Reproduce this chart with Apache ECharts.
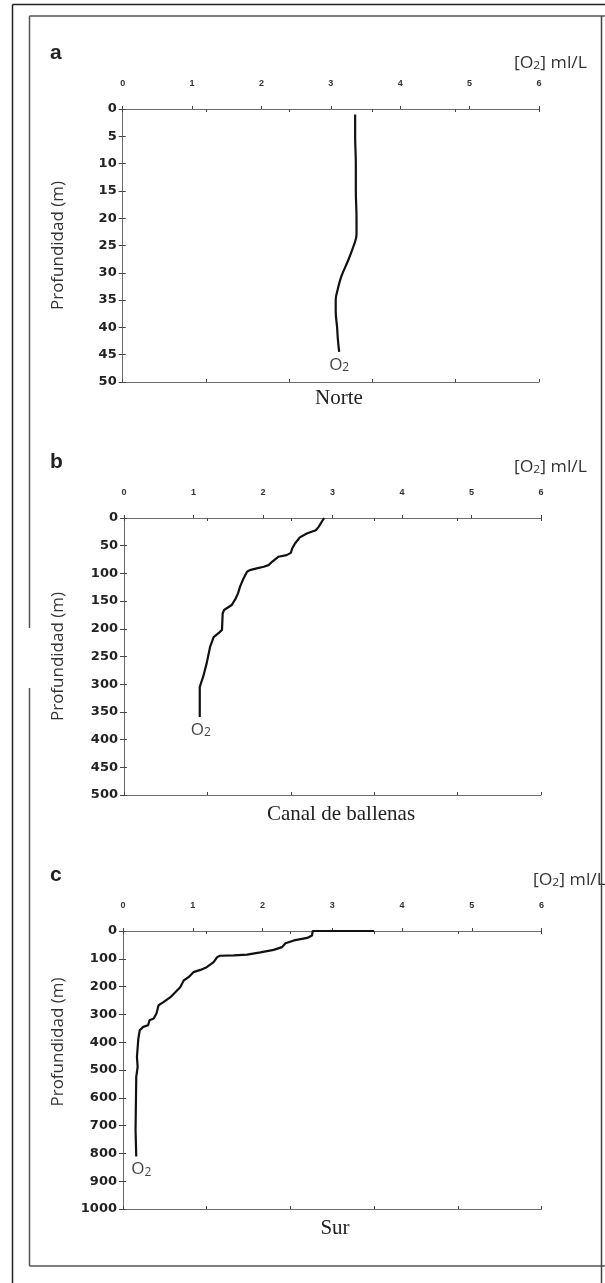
<!DOCTYPE html>
<html><head><meta charset="utf-8">
<script src="https://cdn.jsdelivr.net/npm/echarts@6/dist/echarts.min.js"></script>
<style>html,body{margin:0;padding:0;background:#fff}#c{width:605px;height:1283px}</style>
</head><body><div id="c"></div><script>
// ---- data ----
const o2Ticks = [0, 1, 2, 3, 4, 5, 6];
const norteDepth = [1, 5, 10, 15, 20, 23, 25, 27.7, 30.7, 33, 35, 37, 40, 42, 44.5];
const norteO2    = [3.35, 3.35, 3.36, 3.36, 3.37, 3.37, 3.33, 3.25, 3.15, 3.10, 3.07, 3.07, 3.09, 3.10, 3.12];
const canalDepth = [0, 2, 16, 22, 28, 35, 46, 55, 63, 67, 70, 79, 85, 88, 91, 94, 97, 109, 124, 136, 147, 157, 166, 172, 202, 208, 215, 232, 262, 286, 305, 359];
const canalO2    = [2.88, 2.87, 2.80, 2.76, 2.63, 2.53, 2.46, 2.42, 2.40, 2.34, 2.22, 2.13, 2.08, 2.01, 1.91, 1.81, 1.77, 1.72, 1.67, 1.64, 1.60, 1.55, 1.44, 1.42, 1.41, 1.36, 1.29, 1.24, 1.19, 1.14, 1.09, 1.09];
const surDepth = [0, 0, 16, 25, 34, 44, 58, 68, 77, 85, 88, 89, 94, 112, 130, 140, 148, 166, 178, 202, 220, 238, 256, 267, 297, 315, 321, 339, 345, 357, 387, 453, 489, 525, 716, 811];
const surO2    = [3.6, 2.72, 2.71, 2.64, 2.45, 2.33, 2.28, 2.16, 1.97, 1.78, 1.59, 1.39, 1.35, 1.30, 1.20, 1.11, 1.01, 0.94, 0.87, 0.82, 0.75, 0.68, 0.58, 0.51, 0.48, 0.44, 0.38, 0.36, 0.29, 0.24, 0.22, 0.20, 0.21, 0.19, 0.18, 0.19];
const panelLetters = ['a', 'b', 'c'];
const panelNames = ['Norte', 'Canal de ballenas', 'Sur'];
const depthMax = [50, 500, 1000];
const depthStep = [5, 50, 100];
const xTitle = '[O{s|2}] ml/L';
const yTitle = 'Profundidad (m)';
const seriesLabel = '{o|O}{s|2}';

// ---- layout ----
const depths = [norteDepth, canalDepth, surDepth];
const o2s = [norteO2, canalO2, surO2];
const grids = [
  {left: 122.7, top: 109, width: 416.3, height: 273},
  {left: 124, top: 518, width: 417, height: 277},
  {left: 123, top: 931, width: 418.5, height: 278}
];
const lineCol = '#6c6c6c';
const textCol = '#222';
const labelOffset = [[0, 0], [1, 0], [5, 0]];

const xAxis = [], yAxis = [], series = [], graphic = [];
grids.forEach((g, i) => {
  xAxis.push({
    gridIndex: i, type: 'value', min: o2Ticks[0], max: o2Ticks[o2Ticks.length - 1], interval: 1,
    position: 'top', offset: 33,
    axisLine: {show: true, lineStyle: {color: lineCol, width: 1}},
    axisTick: {show: true, inside: false, length: 3, lineStyle: {color: '#444', width: 1}},
    axisLabel: {show: true, inside: true, margin: 3, fontSize: 9, fontWeight: 'bold', color: '#333', fontFamily: 'Liberation Sans'},
    splitLine: {show: false}
  });
  ['top', 'bottom'].forEach(pos => xAxis.push({
    gridIndex: i, type: 'value', min: 0, max: 5, interval: 1, position: pos,
    axisLine: {show: true, lineStyle: {color: lineCol, width: 1}},
    axisTick: {show: true, inside: true, length: 3, lineStyle: {color: '#444'}},
    axisLabel: {show: false}, splitLine: {show: false}
  }));
  yAxis.push({
    gridIndex: i, type: 'value', inverse: true, min: 0, max: depthMax[i], interval: depthStep[i], position: 'left',
    axisLine: {show: true, lineStyle: {color: lineCol, width: 1}},
    axisTick: {show: true, inside: true, length: 3, lineStyle: {color: '#444'}},
    axisLabel: {show: true, margin: 6, fontSize: 13, fontWeight: 'bold', color: textCol, fontFamily: 'DejaVu Sans', formatter: v => String(v)},
    splitLine: {show: false}
  });
  yAxis.push({
    gridIndex: i, type: 'value', inverse: true, min: 0, max: depthMax[i], interval: depthStep[i], position: 'right',
    axisLine: {show: true, lineStyle: {color: lineCol, width: 1}},
    axisTick: {show: true, inside: true, length: 4, lineStyle: {color: '#444'}},
    axisLabel: {show: false}, splitLine: {show: false}
  });
  const d = depths[i], o = o2s[i];
  series.push({
    type: 'line', xAxisIndex: 3 * i, yAxisIndex: 2 * i,
    data: o.map((v, k) => [v, d[k]]),
    showSymbol: false, symbol: 'none', smooth: i === 0 ? 0.4 : false,
    lineStyle: {color: '#111', width: 2.2}, silent: true, animation: false
  });
  series.push({
    type: 'scatter', xAxisIndex: 3 * i, yAxisIndex: 2 * i,
    data: [[o[o.length - 1], d[d.length - 1]]],
    symbol: 'circle', symbolSize: 2, itemStyle: {color: 'rgba(0,0,0,0)'}, silent: true, animation: false,
    label: {show: true, position: 'bottom', distance: 3, offset: labelOffset[i], formatter: seriesLabel,
      rich: {
        o: {fontSize: 17, color: '#111', fontFamily: 'Open Sans'},
        s: {fontSize: 12, color: '#111', fontFamily: 'Open Sans', padding: [6, 0, 0, 0]}
      }}
  });
  // panel letter
  graphic.push({type: 'text', x: 50, y: g.top - 56, style: {text: panelLetters[i], fontFamily: 'Liberation Sans', fontWeight: 'bold', fontSize: 21, fill: textCol, textAlign: 'left', textVerticalAlign: 'middle'}});
  // x title
  graphic.push({type: 'text', x: i === 2 ? 606 : 587, y: g.top - (i === 0 ? 46 : 51), scaleX: 1.1, originX: 0,
    style: {text: xTitle, fontFamily: 'Open Sans', fontSize: 16, fill: '#333', textAlign: 'right', textVerticalAlign: 'middle',
      rich: {s: {fontSize: 11, fill: '#333', fontFamily: 'Open Sans', padding: [5, 0, 0, 0]}}}});
  // y title
  graphic.push({type: 'text', x: 58, y: i === 2 ? 1042 : g.top + g.height / 2, rotation: Math.PI / 2,
    style: {text: yTitle, fontFamily: 'Open Sans', fontSize: 17, fill: '#333', textAlign: 'center', textVerticalAlign: 'middle'}});
  // panel name
  graphic.push({type: 'text', x: [339, 341, 335][i], y: g.top + g.height + [16, 19, 19][i],
    style: {text: panelNames[i], fontFamily: 'Liberation Serif', fontSize: 21, fill: textCol, textAlign: 'center', textVerticalAlign: 'middle'}});
});
// frames
const fr = (x1, y1, x2, y2, c, w) => ({type: 'line', shape: {x1, y1, x2, y2}, style: {stroke: c, lineWidth: w}, silent: true});
graphic.push(fr(12.5, 4.5, 605, 4.5, '#222', 1.5));
graphic.push(fr(12.5, 4.5, 12.5, 1283, '#222', 1.5));
graphic.push(fr(29.5, 16, 605, 16, '#555', 1.5));
graphic.push(fr(29.5, 16, 29.5, 628, '#555', 1.5));
graphic.push(fr(29.5, 688, 29.5, 1266, '#555', 1.5));
graphic.push(fr(29.5, 1266, 605, 1266, '#555', 1.5));
graphic.push(fr(601.5, 16, 601.5, 1283, '#444', 1.5));

const chart = echarts.init(document.getElementById('c'), null, {renderer: 'canvas'});
chart.setOption({
  animation: false, backgroundColor: '#fff',
  grid: grids.map(g => Object.assign({containLabel: false}, g)),
  xAxis, yAxis, series, graphic
});
</script></body></html>
